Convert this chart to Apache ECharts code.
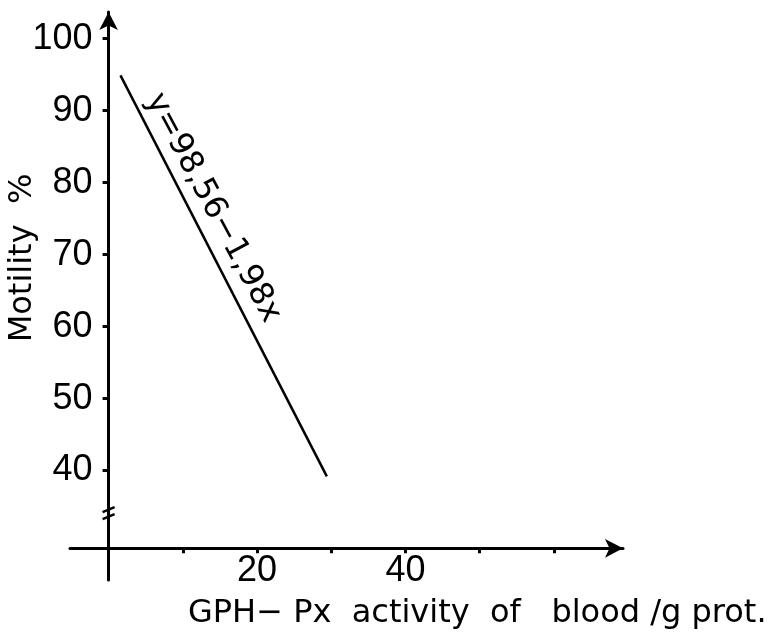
<!DOCTYPE html>
<html>
<head>
<meta charset="utf-8">
<script src="https://cdn.jsdelivr.net/npm/echarts@6/dist/echarts.min.js"></script>
<style>
  html, body { margin: 0; padding: 0; background: #fff; }
  #chart { width: 779px; height: 644px; }
</style>
</head>
<body>
<div id="chart"></div>
<script>
// axis ticks / labels
const xTicks = [10, 20, 30, 40, 50, 60];
const xLabels = [20, 40];
const yTicks = [40, 50, 60, 70, 80, 90, 100];

// regression line end points
const lineX = [1.6, 29.4];
const lineY = [94.9, 39.2];

const xRange = [-5.2, 69.3];
const yRange = [24.8, 103.7];
const yCross = 29.2; // x axis sits here (y axis broken below 40)
const yBreak = 34.1;

const equation = "y=98,56−1,98x";
const xName = "GPH− Px  activity  of   blood /g prot.";
const yName = "Motility  %";

const chart = echarts.init(document.getElementById("chart"));

const black = "#000";
const labelFont = {
  fontFamily: '"Liberation Sans", Arial, sans-serif',
  fontSize: 36,
  color: black,
};

chart.setOption({
  animation: false,
  grid: {
    left: 70,
    right: 156,
    top: 12,
    bottom: 64,
    containLabel: false,
    outerBoundsMode: "none",
  },
  xAxis: {
    type: "value",
    min: xRange[0],
    max: xRange[1],
    splitLine: { show: false },
    axisLine: {
      onZero: false,
      symbol: ["none", "arrow"],
      symbolSize: [14, 18],
      lineStyle: { color: black, width: 3 },
    },
    axisTick: {
      customValues: xTicks,
      length: 5,
      lineStyle: { color: black, width: 3 },
    },
    axisLabel: Object.assign({ customValues: xLabels, margin: 5 }, labelFont),
  },
  yAxis: {
    type: "value",
    min: yRange[0],
    max: yRange[1],
    splitLine: { show: false },
    axisLine: {
      onZero: false,
      symbol: ["none", "arrow"],
      symbolSize: [14, 18],
      lineStyle: { color: black, width: 3 },
    },
    axisTick: {
      customValues: yTicks,
      length: 6,
      lineStyle: { color: black, width: 3 },
    },
    axisLabel: Object.assign({ customValues: yTicks, margin: 16 }, labelFont),
  },
  series: [
    {
      type: "line",
      data: lineX.map((x, i) => [x, lineY[i]]),
      symbol: "none",
      lineStyle: { color: black, width: 2.5 },
    },
  ],
});

// move the axes so they cross at x = 0, y = yCross
const origin = chart.convertToPixel({ xAxisIndex: 0, yAxisIndex: 0 }, [0, yCross]);
const corner = chart.convertToPixel({ xAxisIndex: 0, yAxisIndex: 0 }, [xRange[0], yRange[0]]);
const bp = chart.convertToPixel({ xAxisIndex: 0, yAxisIndex: 0 }, [0, yBreak]);

chart.setOption({
  xAxis: { offset: origin[1] - corner[1] },
  yAxis: { offset: corner[0] - origin[0] },
  graphic: [
    {
      type: "text",
      x: 23,
      y: 258,
      rotation: Math.PI / 2,
      style: {
        text: yName,
        font: '32px "DejaVu Sans"',
        fill: black,
        align: "center",
        verticalAlign: "middle",
        textAlign: "center",
        textVerticalAlign: "middle",
      },
    },
    {
      type: "text",
      x: 188,
      y: 614,
      style: {
        text: xName,
        font: '32px "DejaVu Sans"',
        fill: black,
        align: "left",
        verticalAlign: "middle",
        textAlign: "left",
        textVerticalAlign: "middle",
      },
    },
    {
      type: "text",
      x: 213,
      y: 208,
      rotation: (-62 * Math.PI) / 180,
      style: {
        text: equation,
        font: '32px "DejaVu Sans"',
        fill: black,
        align: "center",
        verticalAlign: "middle",
        textAlign: "center",
        textVerticalAlign: "middle",
      },
    },
    {
      type: "polyline",
      shape: { points: [[bp[0] - 6, bp[1] - 1], [bp[0] + 6, bp[1] - 6]] },
      style: { stroke: black, lineWidth: 2.5, fill: null },
    },
    {
      type: "polyline",
      shape: { points: [[bp[0] - 6, bp[1] + 6], [bp[0] + 6, bp[1] + 1]] },
      style: { stroke: black, lineWidth: 2.5, fill: null },
    },
  ],
});
</script>
</body>
</html>
